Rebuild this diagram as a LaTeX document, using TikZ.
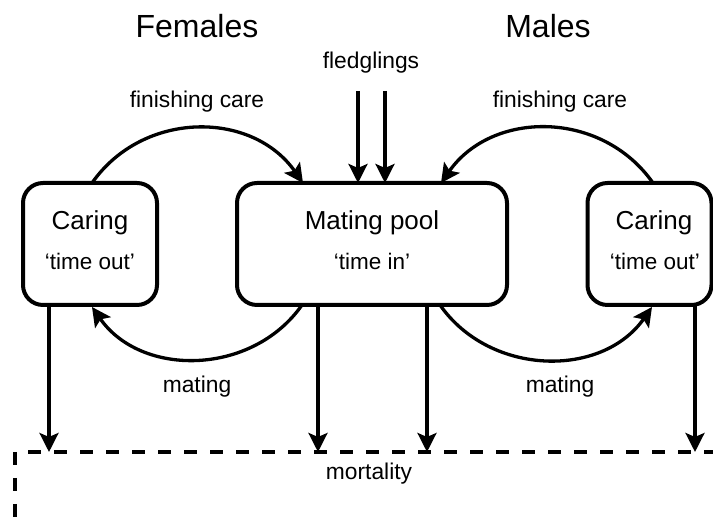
\documentclass[tikz,border=0pt]{standalone}
\usepackage{fontspec}
\setmainfont{Liberation Sans}
\usetikzlibrary{arrows.meta}
\tikzset{
  box/.style={draw, line width=4pt, rounded corners=20pt, minimum height=122pt, inner sep=0pt, outer sep=0pt},
  arr/.style={line width=3.3pt, -{Stealth[length=19pt,width=19pt,inset=4pt]}},
  curvearr/.style={line width=3.3pt, -{Stealth[length=19pt,width=19pt,inset=4pt]}},
  dashline/.style={line width=3.5pt, dash pattern=on 13pt off 13pt},
  title/.style={anchor=base, inner sep=0pt, font=\fontsize{32}{36}\selectfont},
  head/.style={anchor=base, inner sep=0pt, font=\fontsize{26}{30}\selectfont},
  sub/.style={anchor=base, inner sep=0pt, font=\fontsize{22.5}{26}\selectfont},
  lab/.style={anchor=base, inner sep=0pt, font=\fontsize{22.8}{26}\selectfont},
}
\begin{document}
\begin{tikzpicture}[x=1pt,y=1pt]
\useasboundingbox (0,0) rectangle (713,518);
% boxes
\node[box, minimum width=134pt] (lc) at (90,274) {};
\node[box, minimum width=270pt] (mp) at (372,274) {};
\node[box, minimum width=124pt] (rc) at (649.5,274) {};
% box texts
\node[head] (lct) at (90,288) {Caring};
\node[sub] (lcs) at (90,248) {‘time out’};
\node[head] (mpt) at (372,288) {Mating pool};
\node[sub] (mps) at (372,248) {‘time in’};
\node[head] (rct) at (654,288) {Caring};
\node[sub] (rcs) at (655,248) {‘time out’};
% titles and labels
\node[title] (fem) at (197,480) {Females};
\node[title] (mal) at (548,480) {Males};
\node[lab] (fl) at (371,449) {fledglings};
\node[lab] (fcl) at (197,410) {finishing care};
\node[lab] (fcr) at (560,410) {finishing care};
\node[lab] (mtl) at (197,125) {mating};
\node[lab] (mtr) at (560,125) {mating};
\node[lab] (mort) at (369,38) {mortality};
% fledgling inputs
\coordinate (f1) at (358,427);
\coordinate (f2) at (385,427);
\draw[arr] (f1) -- (f1 |- mp.north);
\draw[arr] (f2) -- (f2 |- mp.north);
% finishing care arcs
\draw[curvearr] ([xshift=2pt]lc.north) to[out=55,in=125,looseness=1.08] ([xshift=66pt]mp.north west);
\draw[curvearr] ([xshift=3.5pt]rc.north) to[out=125,in=55,looseness=1.08] ([xshift=-66pt]mp.north east);
% mating arcs
\draw[curvearr] ([xshift=65pt]mp.south west) to[out=-125,in=-55,looseness=1.05] ([xshift=2pt,yshift=-2pt]lc.south);
\draw[curvearr] ([xshift=-67pt]mp.south east) to[out=-55,in=-125,looseness=1.05] ([xshift=2.5pt,yshift=-2pt]rc.south);
% mortality
\coordinate (corner) at (15,66);
\coordinate (d1) at (49,66);
\coordinate (d2) at (318,66);
\coordinate (d3) at (427,66);
\coordinate (d4) at (695,66);
\coordinate (rend) at (713,66);
\coordinate (bend) at (15,0);
\draw[dashline] (corner) -- (bend);
\draw[dashline, dash phase=13pt] (corner) -- (rend);
\draw[arr] (d1 |- lc.south) -- (d1);
\draw[arr] (d2 |- mp.south) -- (d2);
\draw[arr] (d3 |- mp.south) -- (d3);
\draw[arr] (d4 |- rc.south) -- (d4);
\end{tikzpicture}
\end{document}
